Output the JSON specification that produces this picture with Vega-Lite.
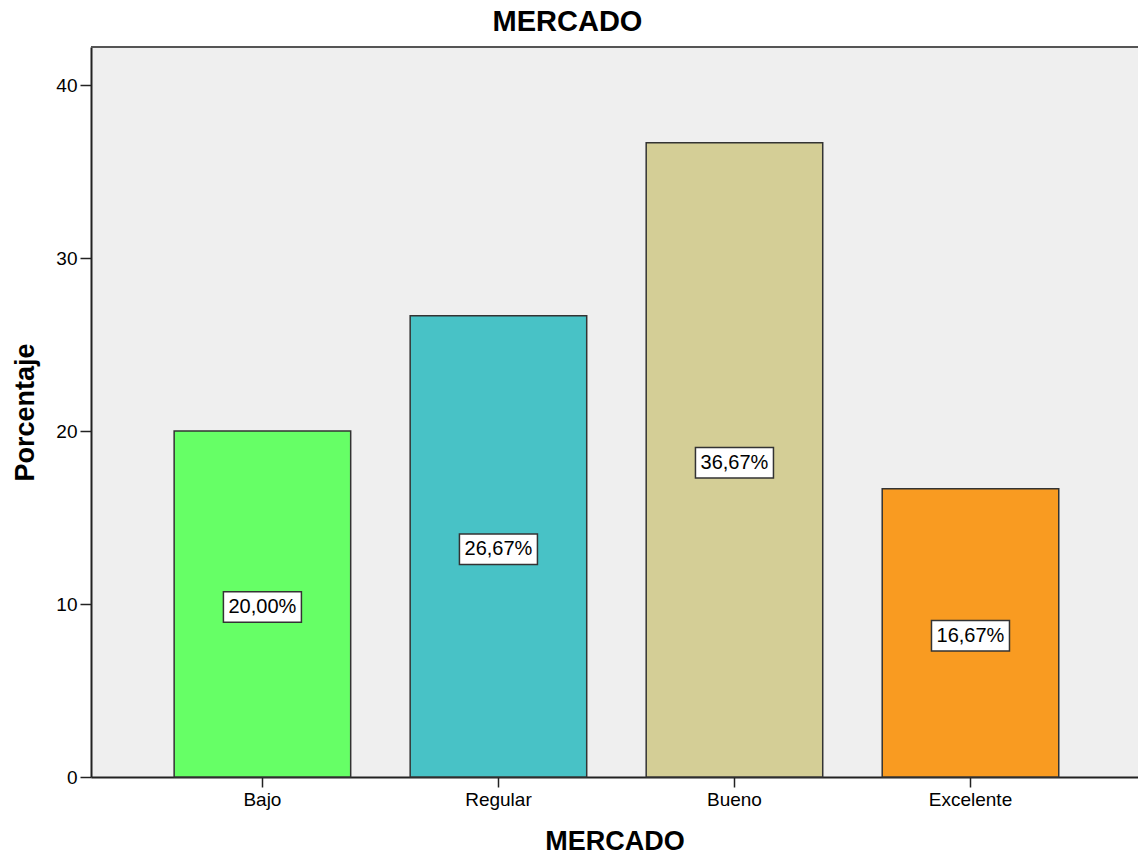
{
  "$schema": "https://vega.github.io/schema/vega-lite/v6.json",
  "autosize": "none",
  "width": 1047,
  "height": 730,
  "padding": {"left": 91, "top": 47, "right": 0, "bottom": 80},
  "background": "#ffffff",
  "config": {
    "font": "Liberation Sans",
    "view": {"fill": "#efefef", "stroke": null}
  },
  "title": {
    "text": "MERCADO",
    "fontSize": 29,
    "fontWeight": "bold",
    "color": "#000000",
    "anchor": "middle",
    "dx": -47,
    "offset": 9
  },
  "datasets": {
    "mercado": [
      {"nivel": "Bajo", "porcentaje": 20.00, "etiqueta": "20,00%"},
      {"nivel": "Regular", "porcentaje": 26.67, "etiqueta": "26,67%"},
      {"nivel": "Bueno", "porcentaje": 36.67, "etiqueta": "36,67%"},
      {"nivel": "Excelente", "porcentaje": 16.67, "etiqueta": "16,67%"}
    ],
    "marco": [{"tope": 42.2}]
  },
  "resolve": {"scale": {"y": "shared"}},
  "layer": [
    {
      "data": {"name": "mercado"},
      "mark": {"type": "bar", "stroke": "#333333", "strokeWidth": 1.5},
      "encoding": {
        "x": {
          "field": "nivel",
          "type": "nominal",
          "sort": null,
          "scale": {"paddingInner": 0.252, "paddingOuter": 0.344, "align": 0.512},
          "axis": {
            "title": "MERCADO",
            "titleFontSize": 27,
            "titleFontWeight": "bold",
            "titleColor": "#000000",
            "titlePadding": 19,
            "labelAngle": 0,
            "labelFontSize": 19,
            "labelColor": "#000000",
            "labelPadding": 3,
            "tickSize": 10,
            "tickColor": "#222222",
            "tickWidth": 1.5,
            "domainColor": "#222222",
            "domainWidth": 2
          }
        },
        "y": {
          "field": "porcentaje",
          "type": "quantitative",
          "scale": {"domain": [0, 42.2], "nice": false, "zero": true},
          "axis": {
            "title": "Porcentaje",
            "titleFontSize": 27,
            "titleFontWeight": "bold",
            "titleColor": "#000000",
            "titlePadding": 16,
            "values": [0, 10, 20, 30, 40],
            "grid": false,
            "labelFontSize": 19,
            "labelColor": "#000000",
            "labelPadding": 3,
            "tickSize": 11,
            "tickColor": "#222222",
            "tickWidth": 1.5,
            "domainColor": "#222222",
            "domainWidth": 2
          }
        },
        "color": {
          "field": "nivel",
          "type": "nominal",
          "sort": null,
          "scale": {
            "domain": ["Bajo", "Regular", "Bueno", "Excelente"],
            "range": ["#66ff66", "#48c2c6", "#d4ce96", "#f99b21"]
          },
          "legend": null
        }
      }
    },
    {
      "data": {"name": "marco"},
      "mark": {"type": "rule", "stroke": "#555555", "strokeWidth": 2},
      "encoding": {"y": {"field": "tope", "type": "quantitative"}}
    },
    {
      "data": {"name": "mercado"},
      "transform": [{"calculate": "datum.porcentaje / 2", "as": "medio"}],
      "mark": {
        "type": "point",
        "shape": "M-1,-0.39L1,-0.39L1,0.39L-1,0.39Z",
        "size": 6084,
        "filled": true,
        "fill": "#ffffff",
        "stroke": "#333333",
        "strokeWidth": 1.5,
        "opacity": 1,
        "yOffset": 3
      },
      "encoding": {
        "x": {"field": "nivel", "type": "nominal", "sort": null},
        "y": {"field": "medio", "type": "quantitative"}
      }
    },
    {
      "data": {"name": "mercado"},
      "transform": [{"calculate": "datum.porcentaje / 2", "as": "medio"}],
      "mark": {
        "type": "text",
        "fontSize": 20,
        "color": "#000000",
        "baseline": "middle",
        "align": "center",
        "yOffset": 3
      },
      "encoding": {
        "x": {"field": "nivel", "type": "nominal", "sort": null},
        "y": {"field": "medio", "type": "quantitative"},
        "text": {"field": "etiqueta"}
      }
    }
  ]
}
